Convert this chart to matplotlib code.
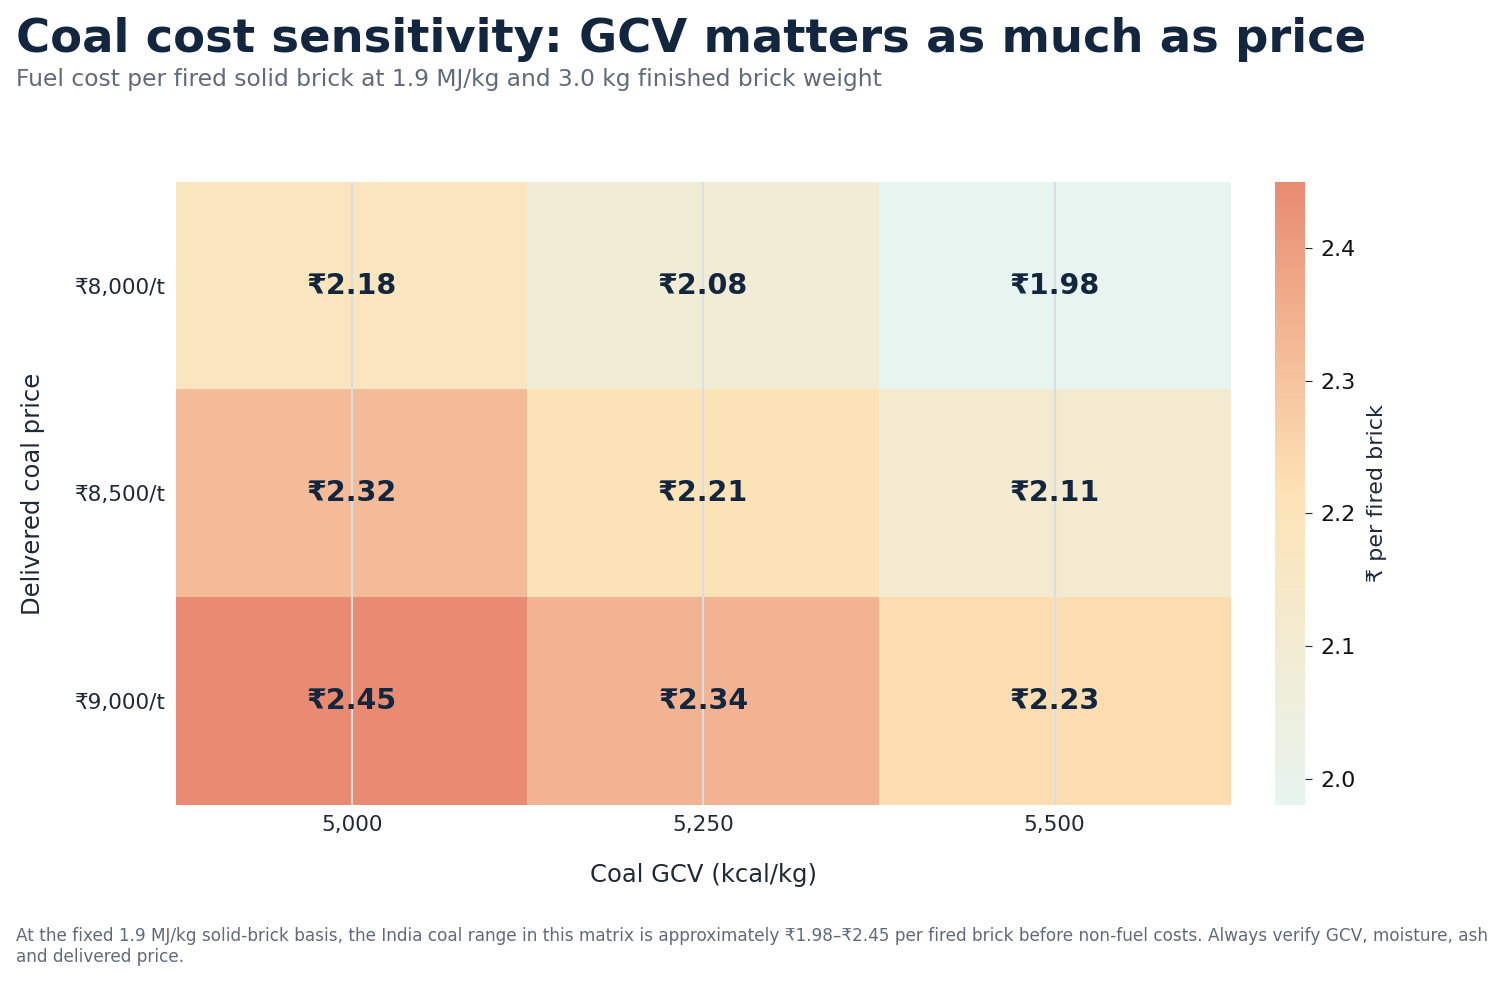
import numpy as np
import matplotlib
matplotlib.use("Agg")
import matplotlib.pyplot as plt
from matplotlib.colors import LinearSegmentedColormap

# data
gcv_labels = ["5,000", "5,250", "5,500"]
price_labels = ["₹8,000/t", "₹8,500/t", "₹9,000/t"]
cost_8000 = [2.18, 2.08, 1.98]
cost_8500 = [2.32, 2.21, 2.11]
cost_9000 = [2.45, 2.34, 2.23]

plt.rcParams['font.family'] = ['DejaVu Sans']

grid = np.array([cost_8000, cost_8500, cost_9000])

cmap = LinearSegmentedColormap.from_list(
    "coal", ["#e7f4ef", "#fde3b6", "#e88b72"])

fig = plt.figure(figsize=(15.04, 9.83), dpi=100)
ax = fig.add_axes([0.117, 0.181, 0.701, 0.634])
cax = fig.add_axes([0.848, 0.181, 0.020, 0.634])

vmin, vmax = grid.min(), grid.max()
im = ax.imshow(grid, cmap=cmap, vmin=vmin, vmax=vmax, aspect="auto")

for i in range(grid.shape[0]):
    for j in range(grid.shape[1]):
        ax.text(j, i, "₹%.2f" % grid[i, j], ha="center", va="center",
                fontsize=20.5, fontweight="bold", color="#12263f")

ax.set_xticks(range(len(gcv_labels)))
ax.set_xticklabels(gcv_labels)
ax.set_yticks(range(len(price_labels)))
ax.set_yticklabels(price_labels)
ax.tick_params(length=0, labelsize=15.5, labelcolor="#1f2a37", pad=7)
ax.grid(axis="x", color="#d8dee4", linewidth=1.5)
for s in ax.spines.values():
    s.set_visible(False)

ax.set_xlabel("Coal GCV (kcal/kg)", fontsize=17.5, color="#1f2a37", labelpad=20)
ax.set_ylabel("Delivered coal price", fontsize=17.5, color="#1f2a37", labelpad=22)

cb = fig.colorbar(im, cax=cax)
cb.outline.set_visible(False)
cb.ax.tick_params(labelsize=16, length=5, color="#1f2a37", labelcolor="#111111", pad=6)
cb.set_label("₹ per fired brick", fontsize=16, color="#1f2a37", labelpad=8)

fig.text(0.0106, 0.947, "Coal cost sensitivity: GCV matters as much as price",
         fontsize=33.5, fontweight="bold", color="#12263f", va="baseline")
fig.text(0.0106, 0.913, "Fuel cost per fired solid brick at 1.9 MJ/kg and 3.0 kg finished brick weight",
         fontsize=16.8, color="#5f6b7a", va="baseline")
fig.text(0.0106, 0.017,
         "At the fixed 1.9 MJ/kg solid-brick basis, the India coal range in this matrix is approximately "
         "₹1.98–₹2.45 per fired brick before non-fuel costs. Always verify GCV, moisture, ash\n"
         "and delivered price.",
         fontsize=12.2, color="#5f6b7a", va="bottom", linespacing=1.2)

fig.savefig("out.png", dpi=100)
